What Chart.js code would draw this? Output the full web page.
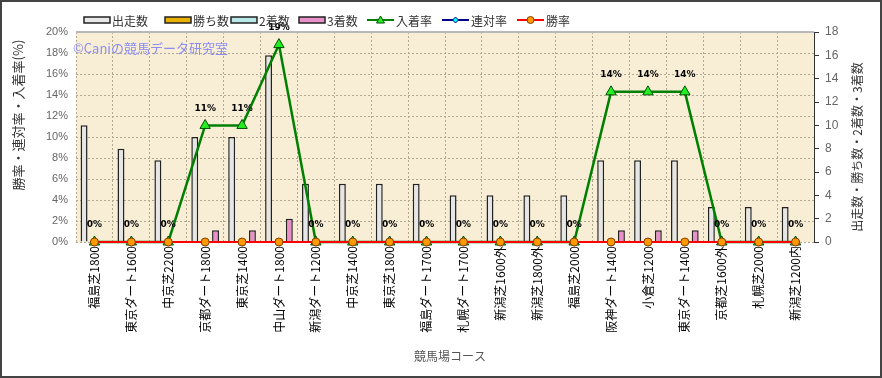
<!DOCTYPE html>
<html>
<head>
<meta charset="utf-8">
<script src="https://cdn.jsdelivr.net/npm/chart.js@4"></script>
<style>
  html, body { margin: 0; padding: 0; background: #fff; }
  canvas { display: block; }
</style>
</head>
<body>
<canvas id="chart" width="882" height="378"></canvas>
<script>
// Data
var courses = ['福島芝1800', '東京ダート1600', '中京芝2200', '京都ダート1800', '東京芝1400',
  '中山ダート1800', '新潟ダート1200', '中京芝1400', '東京芝1800', '福島ダート1700',
  '札幌ダート1700', '新潟芝1600外', '新潟芝1800外', '福島芝2000', '阪神ダート1400',
  '小倉芝1200', '東京ダート1400', '京都芝1600外', '札幌芝2000', '新潟芝1200内'];
var starts  = [10, 8, 7, 9, 9, 16, 5, 5, 5, 5, 4, 4, 4, 4, 7, 7, 7, 3, 3, 3];
var wins    = [0, 0, 0, 0, 0, 0, 0, 0, 0, 0, 0, 0, 0, 0, 0, 0, 0, 0, 0, 0];
var seconds = [0, 0, 0, 0, 0, 0, 0, 0, 0, 0, 0, 0, 0, 0, 0, 0, 0, 0, 0, 0];
var thirds  = [0, 0, 0, 1, 1, 2, 0, 0, 0, 0, 0, 0, 0, 0, 1, 1, 1, 0, 0, 0];
var placeRate = [0, 0, 0, 11.1, 11.1, 18.8, 0, 0, 0, 0, 0, 0, 0, 0, 14.3, 14.3, 14.3, 0, 0, 0];
var rentaiRate = [0, 0, 0, 0, 0, 0, 0, 0, 0, 0, 0, 0, 0, 0, 0, 0, 0, 0, 0, 0];
var winRate    = [0, 0, 0, 0, 0, 0, 0, 0, 0, 0, 0, 0, 0, 0, 0, 0, 0, 0, 0, 0];
var pctTicks = [0, 2, 4, 6, 8, 10, 12, 14, 16, 18, 20];
var countTicks = [0, 2, 4, 6, 8, 10, 12, 14, 16, 18];

var jpFont = "'Noto Sans CJK JP', 'Noto Sans', sans-serif";

// Cream plot background, frame, titles, legend, watermark
var decorPlugin = {
  id: 'decor',
  beforeDraw: function(chart) {
    var ctx = chart.ctx, a = chart.chartArea;
    ctx.save();
    ctx.fillStyle = '#f8eed6';
    ctx.fillRect(a.left, a.top, a.right - a.left, a.bottom - a.top);
    ctx.restore();
  },
  afterDatasetsDraw: function(chart) {
    // value labels for 入着率
    var ctx = chart.ctx;
    var meta = chart.getDatasetMeta(4);
    ctx.save();
    ctx.font = 'bold 9px "DejaVu Sans", sans-serif';
    ctx.fillStyle = '#000';
    ctx.textAlign = 'center';
    ctx.textBaseline = 'middle';
    meta.data.forEach(function(pt, i) {
      ctx.fillText(Math.round(placeRate[i]) + '%', pt.x, pt.y - 17);
    });
    ctx.restore();
  },
  afterDraw: function(chart) {
    var ctx = chart.ctx, a = chart.chartArea;
    ctx.save();
    // plot top edge
    ctx.strokeStyle = '#b8b8b8';
    ctx.lineWidth = 2;
    ctx.beginPath();
    ctx.moveTo(a.left, a.top);
    ctx.lineTo(a.right, a.top);
    ctx.stroke();

    // watermark
    ctx.font = '13px ' + jpFont;
    ctx.fillStyle = '#8c8cf4';
    ctx.textBaseline = 'middle';
    ctx.textAlign = 'left';
    ctx.fillText('©Caniの競馬データ研究室', 73, 48);

    // axis titles
    ctx.fillStyle = '#333';
    ctx.font = '13px ' + jpFont;
    ctx.textAlign = 'center';
    ctx.save();
    ctx.translate(18, 115);
    ctx.rotate(-Math.PI / 2);
    ctx.fillText('勝率・連対率・入着率(%)', 0, 0);
    ctx.restore();
    ctx.font = '12px ' + jpFont;
    ctx.save();
    ctx.translate(857, 147);
    ctx.rotate(-Math.PI / 2);
    ctx.fillText('出走数・勝ち数・2着数・3着数', 0, 0);
    ctx.restore();
    ctx.fillStyle = '#555';
    ctx.fillText('競馬場コース', 450, 356);

    // legend
    var items = [
      { kind: 'bar', x: 84, text: '出走数', fill: '#e8e8e8' },
      { kind: 'bar', x: 165, text: '勝ち数', fill: '#e8b000' },
      { kind: 'bar', x: 231, text: '2着数', fill: '#b8e8e8' },
      { kind: 'bar', x: 299, text: '3着数', fill: '#e890c8' },
      { kind: 'line', x: 367, text: '入着率', line: '#008000', mark: 'tri', fill: '#22ee22', edge: '#005000' },
      { kind: 'line', x: 442, text: '連対率', line: '#000080', mark: 'dia', fill: '#00ffff', edge: '#000080' },
      { kind: 'line', x: 517, text: '勝率', line: '#ff0000', mark: 'dot', fill: '#ff9900', edge: '#804000' }
    ];
    var ly = 20;
    ctx.textAlign = 'left';
    ctx.textBaseline = 'middle';
    items.forEach(function(it) {
      if (it.kind === 'bar') {
        ctx.fillStyle = it.fill;
        ctx.fillRect(it.x, ly - 3, 26, 6);
        ctx.strokeStyle = '#222';
        ctx.lineWidth = 1.5;
        ctx.strokeRect(it.x, ly - 3, 26, 6);
      } else {
        ctx.strokeStyle = it.line;
        ctx.lineWidth = 2;
        ctx.beginPath();
        ctx.moveTo(it.x, ly);
        ctx.lineTo(it.x + 27, ly);
        ctx.stroke();
        var cx = it.x + 13.5;
        ctx.fillStyle = it.fill;
        ctx.strokeStyle = it.edge;
        ctx.lineWidth = 1;
        ctx.beginPath();
        if (it.mark === 'tri') {
          ctx.moveTo(cx, ly - 4); ctx.lineTo(cx + 4, ly + 3); ctx.lineTo(cx - 4, ly + 3); ctx.closePath();
        } else if (it.mark === 'dia') {
          ctx.moveTo(cx, ly - 3); ctx.lineTo(cx + 3, ly); ctx.lineTo(cx, ly + 3); ctx.lineTo(cx - 3, ly); ctx.closePath();
        } else {
          ctx.arc(cx, ly, 3.5, 0, Math.PI * 2);
        }
        ctx.fill();
        ctx.stroke();
      }
      ctx.fillStyle = '#333';
      ctx.font = '12px ' + jpFont;
      ctx.fillText(it.text, it.x + (it.kind === 'bar' ? 28 : 29), ly + 1);
    });

    // outer frame
    ctx.strokeStyle = '#444';
    ctx.lineWidth = 2;
    ctx.strokeRect(1, 1, 880, 376);
    ctx.restore();
  }
};

var barBorder = '#222';

new Chart(document.getElementById('chart').getContext('2d'), {
  type: 'bar',
  data: {
    labels: courses,
    datasets: [
      { label: '出走数', data: starts, yAxisID: 'y2', backgroundColor: '#e6e6e6', borderColor: barBorder, borderWidth: 1.5, order: 10 },
      { label: '勝ち数', data: wins, yAxisID: 'y2', backgroundColor: '#e8b000', borderColor: barBorder, borderWidth: 1.5, order: 10 },
      { label: '2着数', data: seconds, yAxisID: 'y2', backgroundColor: '#b8e8e8', borderColor: barBorder, borderWidth: 1.5, order: 10 },
      { label: '3着数', data: thirds, yAxisID: 'y2', backgroundColor: '#e890c8', borderColor: barBorder, borderWidth: 1.5, order: 10 },
      { type: 'line', label: '入着率', data: placeRate, yAxisID: 'y', borderColor: '#008000', borderWidth: 2.5,
        pointStyle: 'triangle', pointRadius: 6, pointBackgroundColor: '#22ee22', pointBorderColor: '#005000', pointBorderWidth: 1,
        tension: 0, clip: false, order: 3 },
      { type: 'line', label: '連対率', data: rentaiRate, yAxisID: 'y', borderColor: '#000080', borderWidth: 2,
        pointStyle: 'rectRot', pointRadius: 4, pointBackgroundColor: '#00ffff', pointBorderColor: '#000080', pointBorderWidth: 1,
        tension: 0, clip: false, order: 2 },
      { type: 'line', label: '勝率', data: winRate, yAxisID: 'y', borderColor: '#ff0000', borderWidth: 2,
        pointStyle: 'circle', pointRadius: 4, pointBackgroundColor: '#ff9900', pointBorderColor: '#804000', pointBorderWidth: 1,
        tension: 0, clip: false, order: 1 }
    ]
  },
  options: {
    responsive: false,
    animation: false,
    devicePixelRatio: 1,
    layout: { padding: { top: 32, left: 0, right: 0, bottom: 0 } },
    datasets: { bar: { categoryPercentage: 0.75, barPercentage: 1.0 } },
    plugins: { legend: { display: false }, tooltip: { enabled: false } },
    scales: {
      x: {
        afterFit: function(s) { s.height = 136; },
        grid: { color: '#b0a890', lineWidth: 1, tickLength: 0, offset: true },
        border: { display: false, dash: [2, 2] },
        ticks: { autoSkip: false, minRotation: 90, maxRotation: 90, padding: 4, color: '#000',
                 font: { size: 12, family: jpFont } }
      },
      y: {
        position: 'left',
        min: 0, max: 20,
        afterFit: function(s) { s.width = 76; },
        afterBuildTicks: function(s) { s.ticks = pctTicks.map(function(v) { return { value: v }; }); },
        grid: { color: '#b0a890', lineWidth: 1, tickLength: 0 },
        border: { display: false, dash: [2, 2] },
        ticks: { padding: 8, color: '#666', font: { size: 11, family: "'Liberation Sans', sans-serif" },
                 callback: function(v) { return v + '%'; } }
      },
      y2: {
        position: 'right',
        min: 0, max: 18,
        afterFit: function(s) { s.width = 68; },
        afterBuildTicks: function(s) { s.ticks = countTicks.map(function(v) { return { value: v }; }); },
        grid: { drawOnChartArea: false, color: '#333', tickLength: 5 },
        border: { display: true, color: '#333', width: 1 },
        ticks: { padding: 6, color: '#666', font: { size: 12, family: "'Liberation Sans', sans-serif" } }
      }
    }
  },
  plugins: [decorPlugin]
});
</script>
</body>
</html>
